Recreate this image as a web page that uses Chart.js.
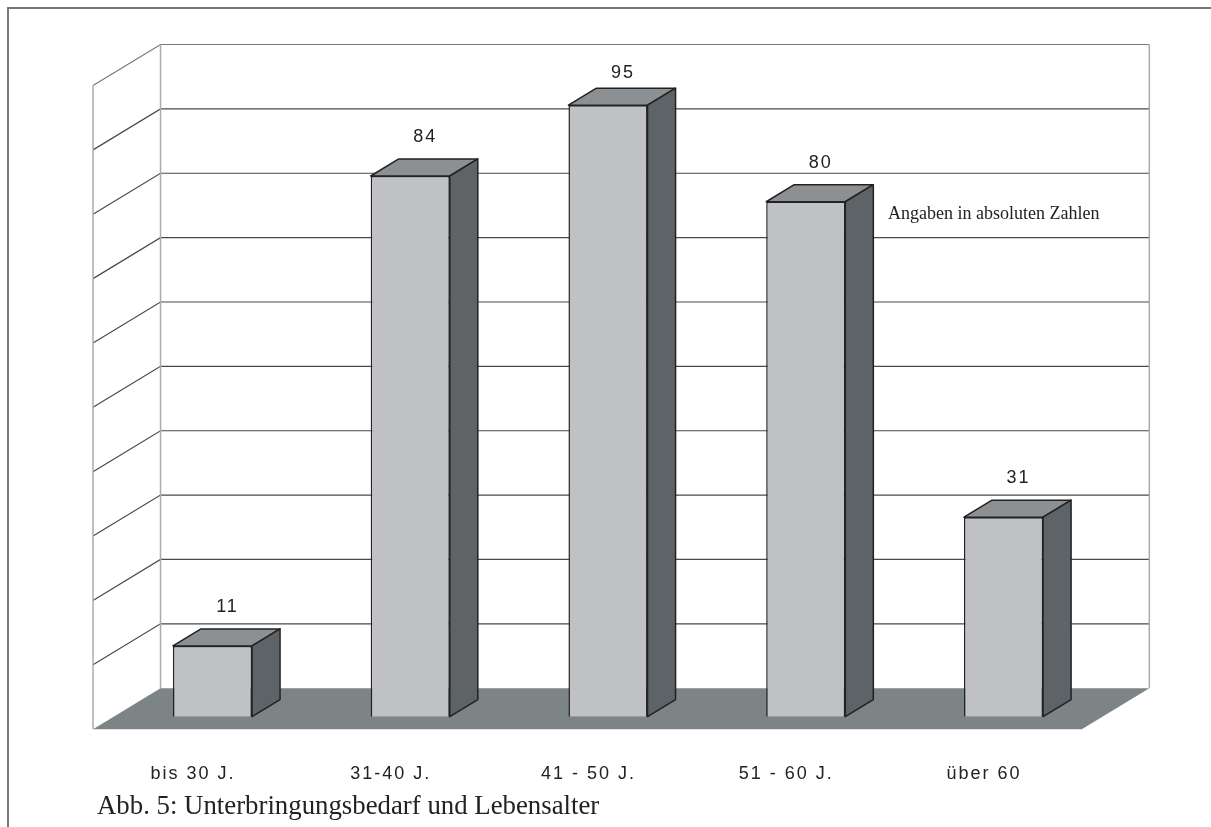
<!DOCTYPE html>
<html lang="de">
<head>
<meta charset="utf-8">
<title>Unterbringungsbedarf und Lebensalter</title>
<script src="https://cdn.jsdelivr.net/npm/chart.js@4"></script>
<style>
  html, body { margin: 0; padding: 0; background: #fff; }
  #wrap { position: relative; width: 1211px; height: 827px; overflow: hidden; }
  #frame { position: absolute; left: 7px; top: 7px; right: -10px; bottom: -10px;
           border-top: 2px solid #777; border-left: 2px solid #777; }
  canvas { position: absolute; left: 0; top: 0; }
  .note { position: absolute; font-family: "Liberation Serif", "Times New Roman", serif;
          color: #222; white-space: nowrap; }
  #unit { left: 888px; top: 203px; font-size: 18px; }
  #caption { left: 97px; top: 790px; font-size: 26.8px; }
</style>
</head>
<body>
<div id="wrap">
  <div id="frame"></div>
  <canvas id="chart" width="1211" height="827"></canvas>
  <div class="note" id="unit">Angaben in absoluten Zahlen</div>
  <div class="note" id="caption">Abb. 5: Unterbringungsbedarf und Lebensalter</div>
</div>
<script>
// Age groups and number of persons with accommodation need
const categories = ['bis 30 J.', '31-40 J.', '41 - 50 J.', '51 - 60 J.', 'über 60'];
const values = [11, 84, 95, 80, 31];
const gridValues = [10, 20, 30, 40, 50, 60, 70, 80, 90, 100];

// Oblique projection of the 3D box: full depth of the plot and where the bars sit in it
const DEPTH_X = 67.5, DEPTH_Y = 41;
const BAR_FRONT = 0.305, BAR_BACK = 0.72;

const colors = {
  face: '#c0c1c5', top: '#8c9093', side: '#5e6367', edge: '#222',
  floor: '#7d8486', grid: '#4a4a4a', wallEdge: '#a9abad', topEdge: '#777'
};

const box3d = {
  id: 'box3d',
  beforeDatasetsDraw(chart) {
    const { ctx, chartArea: a, scales: { x, y } } = chart;
    // offsets from the bar plane to the front and back planes
    const fx = -BAR_FRONT * DEPTH_X, fy = BAR_FRONT * DEPTH_Y;
    const bx = (1 - BAR_FRONT) * DEPTH_X, by = -(1 - BAR_FRONT) * DEPTH_Y;
    const left = a.left, right = a.right;
    const y0 = y.getPixelForValue(y.min), yTop = y.getPixelForValue(y.max);
    ctx.save();
    // floor
    ctx.fillStyle = colors.floor;
    ctx.beginPath();
    ctx.moveTo(left + fx, y0 + fy);
    ctx.lineTo(right + fx, y0 + fy);
    ctx.lineTo(right + bx, y0 + by);
    ctx.lineTo(left + bx, y0 + by);
    ctx.closePath();
    ctx.fill();
    // grid lines on the left wall and the back wall
    ctx.lineWidth = 1.2;
    gridValues.forEach(v => {
      const py = y.getPixelForValue(v);
      ctx.strokeStyle = v === y.max ? colors.topEdge : colors.grid;
      ctx.beginPath();
      ctx.moveTo(left + fx, py + fy);
      ctx.lineTo(left + bx, py + by);
      ctx.lineTo(right + bx, py + by);
      ctx.stroke();
    });
    // vertical wall edges
    ctx.strokeStyle = colors.wallEdge;
    ctx.lineWidth = 1.5;
    [[left + fx, fy], [left + bx, by], [right + bx, by]].forEach(([px, oy]) => {
      ctx.beginPath();
      ctx.moveTo(px, yTop + oy);
      ctx.lineTo(px, y0 + oy);
      ctx.stroke();
    });
    // category labels along the front edge of the floor
    ctx.fillStyle = '#222';
    ctx.font = '18px "Liberation Sans", Arial, sans-serif';
    ctx.letterSpacing = '2px';
    ctx.textAlign = 'center';
    ctx.textBaseline = 'middle';
    categories.forEach((c, i) => {
      ctx.fillText(c, x.getPixelForValue(i) + fx + 1, 774);
    });
    ctx.restore();
  },
  afterDatasetsDraw(chart) {
    const { ctx, chartArea: a } = chart;
    const dx = (BAR_BACK - BAR_FRONT) * DEPTH_X, dy = (BAR_BACK - BAR_FRONT) * DEPTH_Y;
    const meta = chart.getDatasetMeta(0);
    ctx.save();
    ctx.lineWidth = 1.5;
    ctx.lineJoin = 'round';
    ctx.strokeStyle = colors.edge;
    meta.data.forEach((bar, i) => {
      const { x, y, base, width } = bar.getProps(['x', 'y', 'base', 'width'], true);
      const l = x - width / 2, r = x + width / 2;
      // top face
      ctx.fillStyle = colors.top;
      ctx.beginPath();
      ctx.moveTo(l, y); ctx.lineTo(l + dx, y - dy); ctx.lineTo(r + dx, y - dy); ctx.lineTo(r, y);
      ctx.closePath(); ctx.fill(); ctx.stroke();
      // right side face
      ctx.fillStyle = colors.side;
      ctx.beginPath();
      ctx.moveTo(r, y); ctx.lineTo(r + dx, y - dy); ctx.lineTo(r + dx, base - dy); ctx.lineTo(r, base);
      ctx.closePath(); ctx.fill(); ctx.stroke();
      // value label above the bar
      ctx.fillStyle = '#222';
      ctx.font = '18px "Liberation Sans", Arial, sans-serif';
      ctx.letterSpacing = '2px';
      ctx.textAlign = 'center';
      ctx.textBaseline = 'middle';
      const ly = Math.max(y - 39, a.top);
      ctx.fillText(String(values[i]), x + dx / 2 + 1, ly);
    });
    ctx.restore();
  }
};

new Chart(document.getElementById('chart'), {
  type: 'bar',
  data: {
    labels: categories,
    datasets: [{
      data: values,
      backgroundColor: colors.face,
      borderColor: colors.edge,
      borderWidth: 1.5,
      barPercentage: 0.4,
      categoryPercentage: 1
    }]
  },
  options: {
    responsive: false,
    animation: false,
    layout: { padding: { left: 113.6, right: 108.6, top: 73, bottom: 110.3 } },
    scales: {
      x: { display: false },
      y: { display: false, min: 0, max: 100, ticks: { stepSize: 10 } }
    },
    plugins: { legend: { display: false }, tooltip: { enabled: false } }
  },
  plugins: [box3d]
});
</script>
</body>
</html>
